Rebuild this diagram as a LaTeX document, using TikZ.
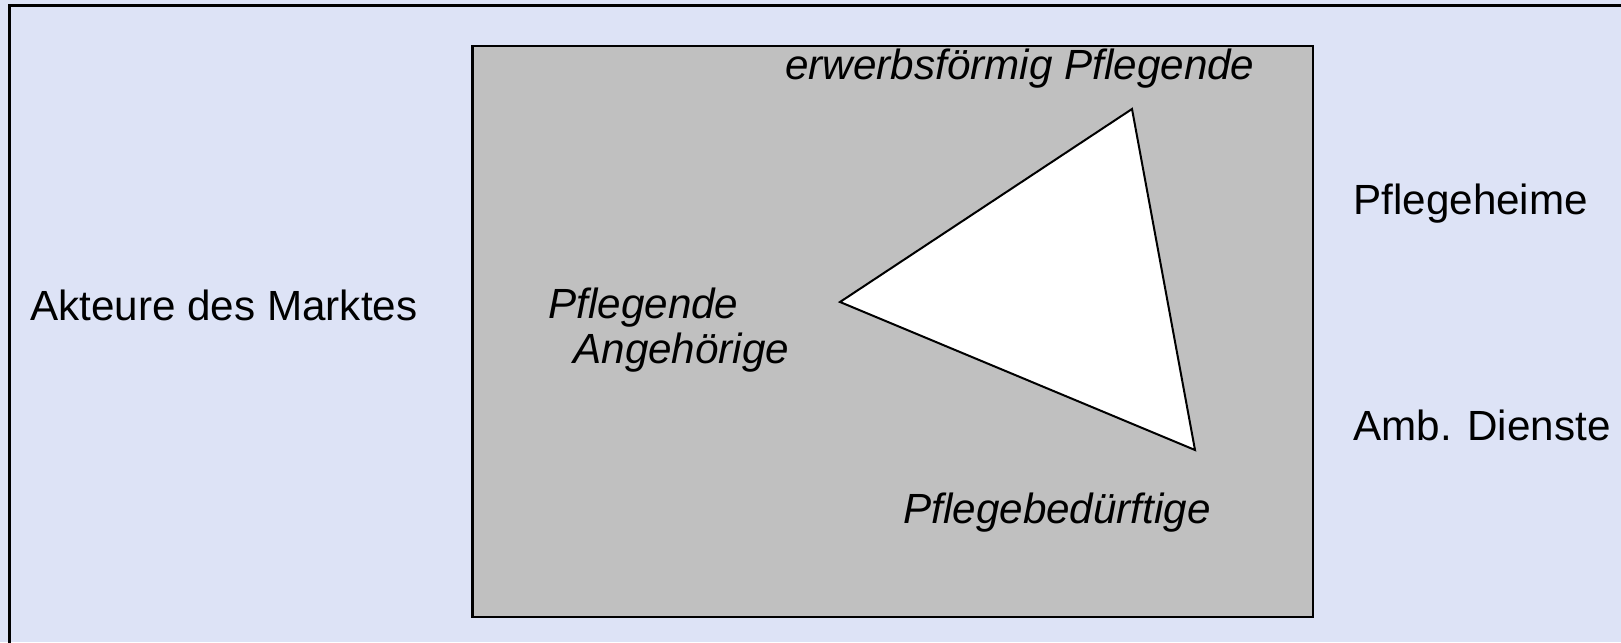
\documentclass[tikz,border=0pt]{standalone}
\usepackage{fontspec}
\setmainfont{Liberation Sans}
\usepackage{tikz}
\usetikzlibrary{positioning}

\definecolor{bgblue}{RGB}{221,227,246}
\definecolor{boxgray}{RGB}{192,192,192}

\begin{document}
\begin{tikzpicture}[
  x=0.5pt, y=-0.5pt,
  font=\fontsize{21.1}{22.5}\selectfont,
  lbl/.style={anchor=base west, inner sep=0pt, align=left},
  ilbl/.style={lbl, font=\fontsize{21.1}{22.5}\selectfont\itshape},
]
% Hintergrund und Rahmen
\useasboundingbox (0,0) rectangle (1621,642);
\clip (0,0) rectangle (1621,642);
\fill[bgblue] (0,0) rectangle (1621,642);
\draw[line width=1.25pt] (9.5,5.5) rectangle (1660,680);

% Markt (grau) mit Dreieck
\draw[fill=boxgray, line width=1.25pt] (472.5,46) rectangle (1313,617);
\coordinate (top) at (1132,109);
\coordinate (left) at (840,302);
\coordinate (bot) at (1195,450);
\draw[fill=white, line width=1pt, line join=miter] (top) -- (left) -- (bot) -- cycle;

% Beschriftungen
\node[lbl] (akteure) at (30,320) {Akteure des Marktes};
\node[ilbl] (erwerb) at (785,80) {erwerbsförmig Pflegende};
\node[ilbl] (angeh) at (548,363) {Pflegende\\\hspace*{12.5pt}Angehörige};
\node[ilbl] (bedarf) at (903,523) {Pflegebedürftige};
\node[lbl] (heime) at (1353,214) {Pflegeheime};
\node[lbl] (amb) at (1353,440) {Amb. Dienste};
\end{tikzpicture}
\end{document}
